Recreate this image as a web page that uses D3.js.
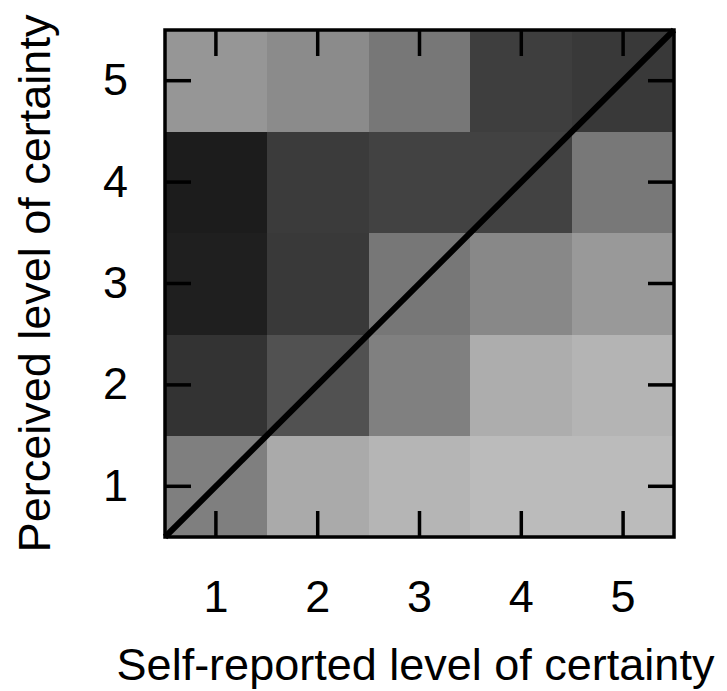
<!DOCTYPE html>
<html>
<head>
<meta charset="utf-8">
<script src="https://cdn.jsdelivr.net/npm/d3@7"></script>
<style>
  html, body { margin: 0; padding: 0; background: #fff; }
  svg { display: block; }
  text { font-family: "Liberation Sans", Arial, Helvetica, sans-serif; fill: #000; }
</style>
</head>
<body>
<svg id="chart" width="727" height="691"></svg>
<script>
// Certainty levels on each axis
const selfReportedLevels = [1, 2, 3, 4, 5];
const perceivedLevels = [1, 2, 3, 4, 5];
const tickLabels = ["1", "2", "3", "4", "5"];

// Grey level of each cell (0 = black, 255 = white), one row per perceived level (1..5),
// columns ordered by self-reported level (1..5)
const perceived1 = [127, 170, 181, 187, 187];
const perceived2 = [51, 81, 128, 173, 180];
const perceived3 = [31, 57, 119, 136, 153];
const perceived4 = [28, 59, 66, 66, 120];
const perceived5 = [150, 139, 119, 62, 57];
const shadeRows = [perceived1, perceived2, perceived3, perceived4, perceived5];

const xTitle = "Self-reported level of certainty";
const yTitle = "Perceived level of certainty";

const svg = d3.select("#chart");
const plot = { left: 165, right: 674, top: 30, bottom: 537 };
const fontSize = 45;
const tickLen = 26;

const x = d3.scaleBand().domain(selfReportedLevels).range([plot.left, plot.right]).padding(0);
const y = d3.scaleBand().domain(perceivedLevels).range([plot.bottom, plot.top]).padding(0);
const shade = d3.scaleLinear().domain([0, 255]).range(["#000000", "#ffffff"]);

// Flatten into cells
const cells = [];
perceivedLevels.forEach((p, i) => {
  selfReportedLevels.forEach((s, j) => {
    cells.push({ s, p, v: shadeRows[i][j] });
  });
});

svg.append("g")
  .selectAll("rect")
  .data(cells)
  .join("rect")
  .attr("x", d => x(d.s))
  .attr("y", d => y(d.p))
  .attr("width", x.bandwidth() + 0.5)
  .attr("height", y.bandwidth() + 0.5)
  .attr("fill", d => shade(d.v))
  .attr("shape-rendering", "crispEdges");

// Identity diagonal, corner to corner
const diag = d3.scaleLinear().domain([0.5, 5.5]);
const xd = diag.copy().range([plot.left, plot.right]);
const yd = diag.copy().range([plot.bottom, plot.top]);
svg.append("line")
  .attr("x1", xd(0.5)).attr("y1", yd(0.5))
  .attr("x2", xd(5.5)).attr("y2", yd(5.5))
  .attr("stroke", "#000")
  .attr("stroke-width", 6)
  .attr("stroke-linecap", "butt");

function styleAxis(g) {
  g.select(".domain").remove();
  g.selectAll(".tick line").attr("stroke", "#000").attr("stroke-width", 3.5);
  g.selectAll(".tick text").attr("font-size", fontSize).attr("font-family", "Liberation Sans, Arial, sans-serif");
}

// Bottom axis with labels, ticks pointing inward
svg.append("g")
  .attr("transform", `translate(0,${plot.bottom})`)
  .call(d3.axisBottom(x).tickSize(-tickLen).tickPadding(43).tickFormat((d, i) => tickLabels[i]))
  .call(styleAxis);

// Top axis, ticks only
svg.append("g")
  .attr("transform", `translate(0,${plot.top})`)
  .call(d3.axisTop(x).tickSize(-tickLen).tickFormat(""))
  .call(styleAxis);

// Left axis with labels
svg.append("g")
  .attr("transform", `translate(${plot.left},0)`)
  .call(d3.axisLeft(y).tickSize(-tickLen).tickPadding(37).tickFormat((d, i) => tickLabels[i]))
  .call(styleAxis);

// Right axis, ticks only
svg.append("g")
  .attr("transform", `translate(${plot.right},0)`)
  .call(d3.axisRight(y).tickSize(-tickLen).tickFormat(""))
  .call(styleAxis);

// Frame
svg.append("rect")
  .attr("x", plot.left).attr("y", plot.top)
  .attr("width", plot.right - plot.left)
  .attr("height", plot.bottom - plot.top)
  .attr("fill", "none")
  .attr("stroke", "#000")
  .attr("stroke-width", 3.5);

// Axis titles
svg.append("text")
  .attr("x", (plot.left + plot.right) / 2 - 4)
  .attr("y", 680)
  .attr("text-anchor", "middle")
  .attr("font-size", fontSize)
  .text(xTitle);

svg.append("text")
  .attr("transform", `translate(50,${(plot.top + plot.bottom) / 2}) rotate(-90)`)
  .attr("text-anchor", "middle")
  .attr("font-size", fontSize)
  .text(yTitle);
</script>
</body>
</html>
